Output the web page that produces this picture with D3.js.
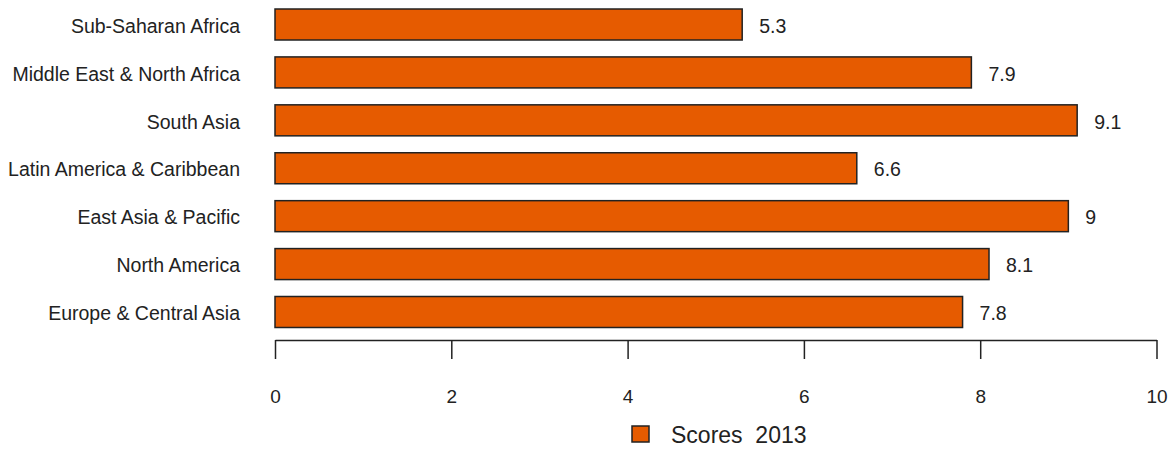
<!DOCTYPE html>
<html lang="en">
  <head>
    <meta charset="utf-8">
    <title></title>
    <style>
      body { margin: 0; background: #fff; }
      svg text { font-family: "Liberation Sans", Arial, sans-serif; fill: #222; }
    </style>
  </head>
  <body>
    <svg class="chart"></svg>

    <script src="https://cdnjs.cloudflare.com/ajax/libs/d3/7.8.5/d3.min.js"></script>
    <script type="text/javascript">
      // data, top to bottom
      var regions = ["Sub-Saharan Africa", "Middle East & North Africa", "South Asia",
                     "Latin America & Caribbean", "East Asia & Pacific", "North America",
                     "Europe & Central Asia"];
      var scores = [5.3, 7.9, 9.1, 6.6, 9, 8.1, 7.8];
      var tickValues = [0, 2, 4, 6, 8, 10];
      var legendLabel = "Scores  2013";

      var width = 1174, height = 453;
      var barColor = "#e65b00";
      var barHeight = 31;

      var x = d3.scaleLinear().domain([0, 10]).range([275, 1156.5]);
      var y = d3.scalePoint().domain(regions).range([24.5, 312]);

      var chart = d3.select(".chart")
          .attr("width", width)
          .attr("height", height);

      // bars
      chart.selectAll(".bar")
          .data(scores)
        .enter().append("rect")
          .attr("class", "bar")
          .attr("x", x(0))
          .attr("y", function(d, i) { return y(regions[i]) - barHeight / 2; })
          .attr("width", function(d) { return x(d) - x(0); })
          .attr("height", barHeight)
          .attr("fill", barColor)
          .attr("stroke", "#222")
          .attr("stroke-width", 1.5);

      // value labels
      chart.selectAll(".val")
          .data(scores)
        .enter().append("text")
          .attr("class", "val")
          .attr("x", function(d) { return x(d) + 17; })
          .attr("y", function(d, i) { return y(regions[i]); })
          .attr("dy", "0.42em")
          .style("font-size", "19.5px")
          .text(function(d) { return String(d); });

      // category labels
      chart.selectAll(".cat")
          .data(regions)
        .enter().append("text")
          .attr("class", "cat")
          .attr("x", 240)
          .attr("y", function(d) { return y(d); })
          .attr("dy", "0.42em")
          .style("text-anchor", "end")
          .style("font-size", "19.5px")
          .text(function(d) { return d; });

      // x axis
      var xAxis = d3.axisBottom(x).tickValues(tickValues).tickSize(19).tickSizeOuter(0).tickPadding(31);
      var ax = chart.append("g")
          .attr("class", "x axis")
          .attr("transform", "translate(0,340)")
          .call(xAxis);
      ax.selectAll("path, line").attr("stroke", "#222").attr("stroke-width", 1.5);
      ax.selectAll("text")
          .style("font-size", "19px")
          .style("font-family", "'Liberation Sans', Arial, sans-serif")
          .attr("fill", "#222");

      // legend
      var legend = chart.append("g").attr("transform", "translate(632,426)");
      legend.append("rect")
          .attr("width", 17)
          .attr("height", 16)
          .attr("fill", barColor)
          .attr("stroke", "#222")
          .attr("stroke-width", 1.5);
      legend.append("text")
          .attr("x", 39)
          .attr("y", 8)
          .attr("dy", "0.4em")
          .style("font-size", "23px")
          .style("white-space", "pre")
          .text(legendLabel);
    </script>
  </body>
</html>
